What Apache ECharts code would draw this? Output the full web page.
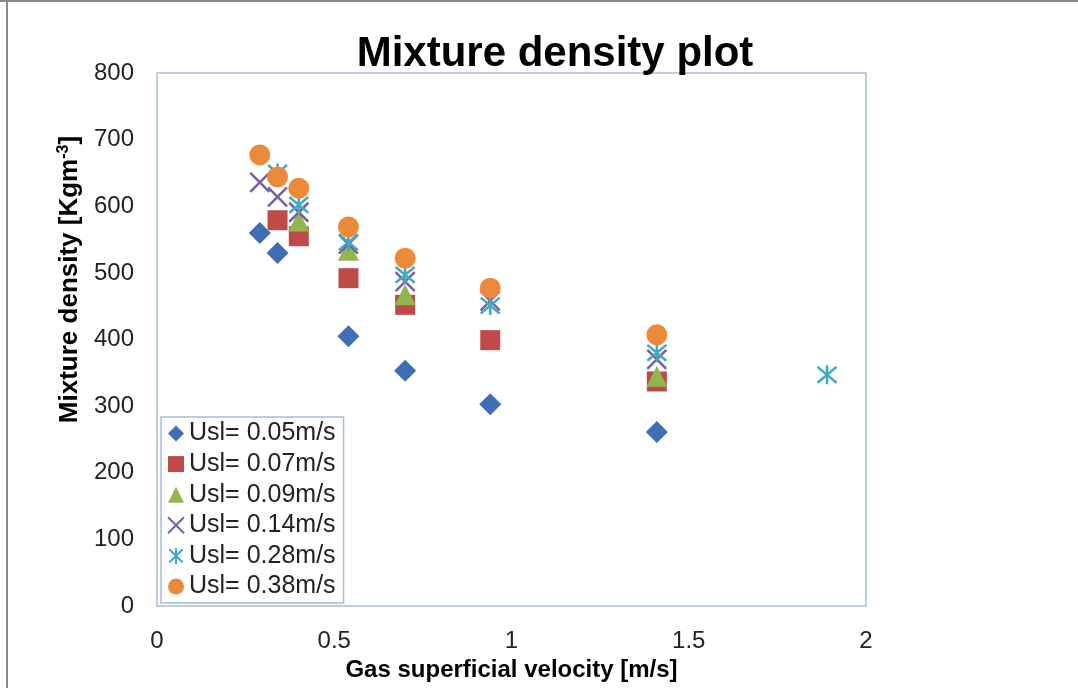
<!DOCTYPE html>
<html><head><meta charset="utf-8">
<script src="https://cdn.jsdelivr.net/npm/echarts@6/dist/echarts.min.js"></script>
<style>html,body{margin:0;padding:0;background:#fff}#c{width:1078px;height:688px}</style>
</head><body><div id="c"></div>
<script>
const seriesNames = ['Usl= 0.05m/s','Usl= 0.07m/s','Usl= 0.09m/s','Usl= 0.14m/s','Usl= 0.28m/s','Usl= 0.38m/s'];
const usl005 = [[0.29,560],[0.34,530],[0.54,405],[0.70,353],[0.94,303],[1.41,261]];
const usl007 = [[0.34,579],[0.40,555],[0.54,492],[0.70,452],[0.94,399],[1.41,337]];
const usl009 = [[0.40,578],[0.54,534],[0.70,467],[1.41,345]];
const usl014 = [[0.29,636],[0.34,614],[0.40,591],[0.54,543],[0.70,487],[0.94,458],[1.41,370]];
const usl028 = [[0.34,650],[0.40,602],[0.54,546],[0.70,497],[0.94,451],[1.41,380],[1.89,347]];
const usl038 = [[0.29,677],[0.34,644],[0.40,627],[0.54,569],[0.70,522],[0.94,477],[1.41,407]];
const xTicks = [0,0.5,1,1.5,2];
const yTicks = [0,100,200,300,400,500,600,700,800];

const font = 'Liberation Sans';
const xPath = 'path://M0,0L10,10M10,0L0,10';
const starPath = 'path://M0,0L10,10M10,0L0,10M5,-1L5,11';
const chart = echarts.init(document.getElementById('c'));
function mk(name, data, symbol, size, color, stroke){
  return {
    name, type:'scatter', data, symbol, symbolSize:size,
    itemStyle: stroke ? {color:'rgba(0,0,0,0)', borderColor:color, borderWidth:2.5, opacity:1} : {color, opacity:1},
    emphasis:{disabled:true}
  };
}
chart.setOption({
  animation:false,
  title:{text:'Mixture density plot', left:550, top:28, textAlign:'center',
    textStyle:{fontFamily:font, fontWeight:'bold', fontSize:42, color:'#000'}},
  graphic:[
    {type:'rect', shape:{x:0,y:0,width:1078,height:2}, style:{fill:'#8a8a8a'}},
    {type:'rect', shape:{x:6,y:0,width:2,height:688}, style:{fill:'#8a8a8a'}}
  ],
  grid:{left:157, top:73, right:212, bottom:82, show:true, borderColor:'#a9bcd6', borderWidth:1.5, backgroundColor:'#fff'},
  xAxis:{type:'value', min:0, max:2, interval:0.5,
    axisLine:{show:false}, axisTick:{show:false}, splitLine:{show:false},
    axisLabel:{fontFamily:font, fontSize:24, color:'#222', margin:23,
      formatter:v=>xTicks.includes(v)?String(v):''},
    name:'Gas superficial velocity [m/s]', nameLocation:'middle', nameGap:50,
    nameTextStyle:{fontFamily:font, fontWeight:'bold', fontSize:24, color:'#000'}},
  yAxis:{type:'value', min:0, max:800, interval:100,
    axisLine:{show:false}, axisTick:{show:false}, splitLine:{show:false},
    axisLabel:{fontFamily:font, fontSize:24, color:'#222', margin:23,
      formatter:v=>yTicks.includes(v)?String(v):''},
    name:'{a|Mixture density [Kgm}{b|-3}{a|]}', nameLocation:'middle', nameGap:72,
    nameTextStyle:{padding:[0,0,0,120], rich:{
      a:{fontFamily:font, fontWeight:'bold', fontSize:26, color:'#000'},
      b:{fontFamily:font, fontWeight:'bold', fontSize:16, color:'#000', padding:[0,0,12,0]}}}},
  legend:{orient:'vertical', left:161, top:417, padding:[4,8,4,6], itemGap:5.6,
    itemWidth:16, itemHeight:16, borderColor:'#a9bcd6', borderWidth:1.5, backgroundColor:'#fff',
    textStyle:{fontFamily:font, fontSize:25, color:'#222'}, selectedMode:false,
    data:seriesNames},
  series:[
    mk(seriesNames[0], usl005, 'diamond', 22, '#3f6eb4'),
    mk(seriesNames[1], usl007, 'rect', 20, '#be4b48'),
    mk(seriesNames[2], usl009, 'triangle', 21, '#93b550'),
    mk(seriesNames[3], usl014, xPath, 19, '#7b5ea0', true),
    mk(seriesNames[4], usl028, starPath, 19, '#3faac4', true),
    mk(seriesNames[5], usl038, 'circle', 21, '#ec8a3a')
  ]
});
</script></body></html>
